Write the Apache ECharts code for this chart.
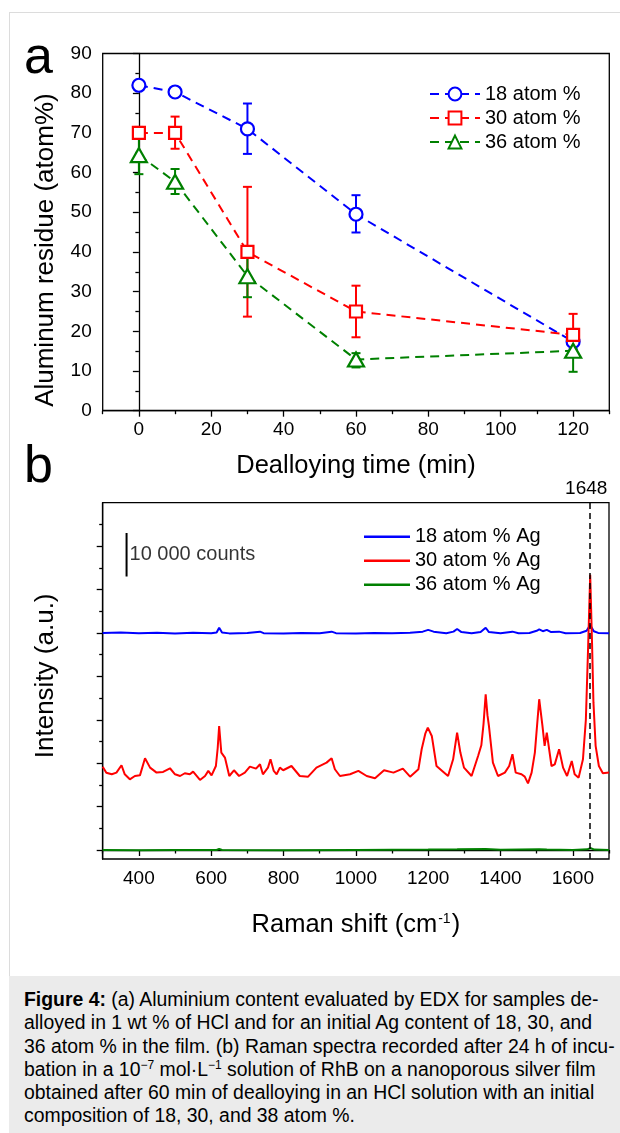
<!DOCTYPE html>
<html>
<head>
<meta charset="utf-8">
<script src="https://cdn.jsdelivr.net/npm/echarts@6/dist/echarts.min.js"></script>
<style>
  html, body { margin:0; padding:0; background:#fff; }
  #wrap { position:relative; width:620px; height:1133px; overflow:hidden; }
  #frame { position:absolute; left:9px; top:12px; width:640px; height:980px; border:1px solid #dcdcdc; box-sizing:border-box; }
  #chart { position:absolute; left:0; top:0; width:620px; height:975px; }
  #caption { position:absolute; left:9px; top:976px; width:611px; height:157px; background:#ebebeb;
    font-family:'Liberation Sans', Arial, sans-serif; font-size:19.4px; line-height:23.3px; color:#000;
    padding:12px 0 0 15px; box-sizing:border-box; white-space:nowrap; }
  #caption sup { font-size:12px; line-height:0; vertical-align:7px; }
</style>
</head>
<body>
<div id="wrap">
  <div id="frame"></div>
  <div id="chart"></div>
  <div id="caption"><b>Figure 4:</b> (a) Aluminium content evaluated by EDX for samples de-<br>alloyed in 1 wt % of HCl and for an initial Ag content of 18, 30, and<br>36 atom % in the film. (b) Raman spectra recorded after 24 h of incu-<br>bation in a 10<sup>−7</sup> mol·L<sup>−1</sup> solution of RhB on a nanoporous silver film<br>obtained after 60 min of dealloying in an HCl solution with an initial<br>composition of 18, 30, and 38 atom %.</div>
</div>
<script>
// ---------- Panel a data ----------
const timeMin = [0, 10, 30, 60, 120];
const al18 = [82, 80.3, 71, 49.5, 17.4];
const al18Low = [null, null, 64.7, 44.9, 15.5];
const al18High = [null, null, 77.4, 54.3, 19.5];
const al30 = [70, 70, 40, 25, 19.1];
const al30Low = [68.5, 66, 23.7, 18.5, 13.8];
const al30High = [71.5, 74.1, 56.4, 31.5, 24.4];
const al36 = [64.4, 57.7, 33.9, 12.9, 15.1];
const al36Low = [59.6, 54.6, 28.6, 10.9, 9.8];
const al36High = [68.8, 60.9, 39.5, 14.5, 19.5];
const namesA = ['18 atom %', '30 atom %', '36 atom %'];
const timeTicks = [0, 20, 40, 60, 80, 100, 120];
const timeMinorTicks = [-10, 10, 30, 50, 70, 90, 110, 130];

// ---------- Panel b data (Raman shift cm-1, counts) ----------
const namesB = ['18 atom % Ag', '30 atom % Ag', '36 atom % Ag'];
const ramanTicks = [400, 600, 800, 1000, 1200, 1400, 1600];
const ramanMinorTicks = [300, 500, 700, 900, 1100, 1300, 1500, 1700];
const countTicks = [0, 10000, 20000, 30000, 40000, 50000, 60000, 70000];
const countMinorTicks = [5000, 15000, 25000, 35000, 45000, 55000, 65000, 75000];
const peakPos = 1648;
const scaleBar = [[366, 73000], [366, 63000]];

const spec30 = [
  [300,19200],[310,17800],[325,17440],[338,17830],[352,19520],[361,17440],[375,16290],[389,17050],
  [403,17200],[417,21130],[431,18980],[449,17830],[467,17990],[486,18830],[500,17440],[514,17050],
  [527,17680],[541,17440],[550,18060],[569,16130],[583,17050],[592,18220],[601,17200],[613,19350],
  [618,23500],[622,28570],[628,22440],[638,21290],[650,17050],[663,18370],[677,17050],[693,17830],
  [707,19210],[724,18750],[735,19750],[743,17440],[757,18980],[764,20900],[773,18220],[781,17440],
  [790,18980],[799,18370],[822,19350],[845,17050],[868,16900],[891,18980],[919,20130],[933,21130],
  [942,18600],[956,17050],[984,17440],[1007,18220],[1030,17050],[1053,16510],[1078,18370],[1104,17830],
  [1130,18750],[1150,16900],[1173,18600],[1182,23210],[1192,26800],[1199,28190],[1210,26270],[1223,19350],
  [1242,17990],[1255,17050],[1269,20900],[1280,27040],[1289,22440],[1299,18980],[1320,17050],[1338,21670],
  [1347,24130],[1353,29000],[1359,35880],[1364,31000],[1368,28570],[1379,20130],[1393,17050],[1412,17830],
  [1424,19350],[1433,22060],[1442,17830],[1458,17440],[1467,16900],[1476,15360],[1486,17830],[1495,22440],
  [1507,34730],[1516,28570],[1522,23980],[1528,27040],[1541,19350],[1550,19730],[1562,23210],[1573,18980],
  [1584,17050],[1597,20520],[1605,17440],[1616,16670],[1628,20900],[1636,30000],[1642,46000],[1648,63400],
  [1653,48000],[1657,34000],[1663,24000],[1672,19350],[1683,17680],[1700,17830]
];
const spec18 = [
  [300,50000],[350,50100],[400,49950],[450,50050],[500,49900],[550,50050],[600,49950],[615,50100],
  [622,51200],[630,50100],[650,49900],[700,50000],[735,50300],[745,49950],[800,49900],[850,50000],
  [900,49950],[933,50300],[945,49950],[1000,49900],[1050,50000],[1100,49950],[1150,50050],[1185,50300],
  [1200,50700],[1215,50300],[1250,49950],[1270,50300],[1280,50900],[1292,50200],[1320,49950],[1345,50200],
  [1359,51200],[1368,50200],[1400,49950],[1433,50300],[1450,49950],[1480,50000],[1500,50500],[1507,50800],
  [1517,50400],[1528,50700],[1540,50200],[1562,50300],[1580,49950],[1620,50000],[1638,50500],[1648,51800],
  [1658,50400],[1670,50000],[1700,49950]
];
const spec36 = [
  [300,0],[400,-50],[500,0],[615,0],[622,250],[630,0],[800,-50],[1000,0],[1200,100],[1280,150],
  [1359,250],[1400,50],[1507,150],[1528,100],[1600,0],[1640,150],[1648,450],[1660,100],[1700,0]
];

// ---------- chart ----------
const FONT = "'Liberation Sans', Arial, sans-serif";
const colors = ['#0000ff', '#ff0000', '#008000'];
const chart = echarts.init(document.getElementById('chart'), null, {renderer: 'canvas'});

function errData(lo, hi) {
  const out = [];
  timeMin.forEach((t, i) => { if (lo[i] != null) out.push([t, lo[i], hi[i]]); });
  return out;
}
function errSeries(name, color, data) {
  return {
    type: 'custom', name: name + ' err', xAxisIndex: 0, yAxisIndex: 0, silent: true,
    data: data,
    renderItem: function (params, api) {
      const x = api.value(0), lo = api.value(1), hi = api.value(2);
      const p1 = api.coord([x, lo]), p2 = api.coord([x, hi]);
      const w = 4.5;
      const st = {stroke: color, lineWidth: 2};
      return {type: 'group', children: [
        {type: 'line', shape: {x1: p1[0], y1: p1[1], x2: p2[0], y2: p2[1]}, style: st},
        {type: 'line', shape: {x1: p1[0]-w, y1: p1[1], x2: p1[0]+w, y2: p1[1]}, style: st},
        {type: 'line', shape: {x1: p2[0]-w, y1: p2[1], x2: p2[0]+w, y2: p2[1]}, style: st}
      ]};
    }
  };
}
function lineA(name, color, vals, symbol, size) {
  return {
    type: 'line', name: name, xAxisIndex: 0, yAxisIndex: 0,
    data: timeMin.map((t, i) => [t, vals[i]]),
    symbol: symbol, symbolSize: size, showAllSymbol: true,
    lineStyle: {color: color, width: 2, type: [9, 6]},
    itemStyle: {color: '#ffffff', borderColor: color, borderWidth: 2.2},
    emphasis: {disabled: true}
  };
}
function lineB(name, color, data) {
  return {
    type: 'line', name: name, xAxisIndex: 1, yAxisIndex: 1, data: data,
    symbol: 'none', lineStyle: {color: color, width: 2}, itemStyle: {color: color},
    emphasis: {disabled: true}
  };
}

const axisLineStyle = {lineStyle: {color: '#000', width: 1.3}};
const labelStyle = {color: '#000', fontSize: 19, fontFamily: FONT, formatter: v => String(v)};

const redB = lineB(namesB[1], colors[1], spec30);
redB.markLine = {
  silent: true, symbol: 'none', animation: false,
  lineStyle: {color: '#000', width: 1.5, type: [6, 4]},
  label: {show: true, position: 'end', formatter: String(peakPos), color: '#000', fontSize: 19, fontFamily: FONT, distance: 4, padding: [0, 8, 0, 0]},
  data: [{xAxis: peakPos}]
};

const option = {
  animation: false,
  textStyle: {fontFamily: FONT},
  grid: [
    {left: 102.7, top: 53.5, width: 506.6, height: 357.2, show: true, borderColor: '#000', borderWidth: 1.3, backgroundColor: 'transparent'},
    {left: 102.7, top: 502.7, width: 506.3, height: 356.3, show: true, borderColor: '#000', borderWidth: 1.3, backgroundColor: 'transparent'}
  ],
  xAxis: [
    {type: 'value', gridIndex: 0, min: -10, max: 130, position: 'bottom',
     axisLine: axisLineStyle, splitLine: {show: false},
     axisTick: {show: true, length: 6, customValues: timeTicks, lineStyle: {color: '#000', width: 1.3}},
     axisLabel: Object.assign({customValues: timeTicks, margin: 10}, labelStyle),
     name: 'Dealloying time (min)', nameLocation: 'middle', nameGap: 42,
     nameTextStyle: {color: '#000', fontSize: 25.5, fontFamily: FONT}},
    {type: 'value', gridIndex: 1, min: 300, max: 1700, position: 'bottom',
     axisLine: axisLineStyle, splitLine: {show: false},
     axisTick: {show: true, length: 6, customValues: ramanTicks, lineStyle: {color: '#000', width: 1.3}},
     axisLabel: Object.assign({customValues: ramanTicks, margin: 10}, labelStyle),
     name: '{a|Raman shift (cm}{s|-1}{a|)}', nameLocation: 'middle', nameGap: 53,
     nameTextStyle: {rich: {
       a: {color: '#000', fontSize: 25.5, fontFamily: FONT},
       s: {color: '#000', fontSize: 14, fontFamily: FONT, verticalAlign: 'top', padding: [0, 1, 0, 1]}
     }}},
    {type: 'value', gridIndex: 0, min: -10, max: 130, position: 'bottom',
     axisLine: {show: false}, splitLine: {show: false}, axisLabel: {show: false},
     axisTick: {show: true, length: 3.5, customValues: timeMinorTicks, lineStyle: {color: '#000', width: 1.3}}},
    {type: 'value', gridIndex: 1, min: 300, max: 1700, position: 'bottom',
     axisLine: {show: false}, splitLine: {show: false}, axisLabel: {show: false},
     axisTick: {show: true, length: 3.5, customValues: ramanMinorTicks, lineStyle: {color: '#000', width: 1.3}}}
  ],
  yAxis: [
    {type: 'value', gridIndex: 0, min: 0, max: 90, interval: 10, position: 'left',
     axisLine: axisLineStyle, splitLine: {show: false},
     axisTick: {show: true, length: 6, lineStyle: {color: '#000', width: 1.3}},
     minorTick: {show: true, splitNumber: 2, length: 3.5, lineStyle: {color: '#000', width: 1.3}},
     minorSplitLine: {show: false},
     axisLabel: Object.assign({margin: 11}, labelStyle),
     name: 'Aluminum residue (atom%)', nameLocation: 'middle', nameGap: 44,
     nameTextStyle: {color: '#000', fontSize: 26, fontFamily: FONT, padding: [0, 36, 0, 0]}},
    {type: 'value', gridIndex: 1, min: -2070, max: 80000, position: 'left',
     axisLine: axisLineStyle, splitLine: {show: false},
     axisTick: {show: true, length: 6, customValues: countTicks, lineStyle: {color: '#000', width: 1.3}},
     axisLabel: {show: false},
     name: 'Intensity (a.u.)', nameLocation: 'middle', nameGap: 44,
     nameTextStyle: {color: '#000', fontSize: 26, fontFamily: FONT, padding: [0, 0, 0, 10]}},
    {type: 'value', gridIndex: 1, min: -2070, max: 80000, position: 'left',
     axisLine: {show: false}, splitLine: {show: false}, axisLabel: {show: false},
     axisTick: {show: true, length: 3.5, customValues: countMinorTicks, lineStyle: {color: '#000', width: 1.3}}}
  ],
  legend: [
    {data: namesA, left: 424, top: 79, orient: 'vertical', itemWidth: 50, itemHeight: 16, itemGap: 4,
     textStyle: {color: '#000', fontSize: 20, fontFamily: FONT, lineHeight: 20}, selectedMode: false},
    {data: namesB, left: 359, top: 521.7, orient: 'vertical', itemWidth: 46, itemHeight: 2.5, itemGap: 4,
     icon: 'rect',
     textStyle: {color: '#000', fontSize: 20, fontFamily: FONT, lineHeight: 20}, selectedMode: false}
  ],
  graphic: [
    {type: 'text', left: 24, top: 33, style: {text: 'a', fontSize: 52, fontFamily: FONT, fill: '#000'}},
    {type: 'text', left: 24, top: 442, style: {text: 'b', fontSize: 52, fontFamily: FONT, fill: '#000'}}
  ],
  series: [
    errSeries(namesA[0], colors[0], errData(al18Low, al18High)),
    lineA(namesA[0], colors[0], al18, 'circle', 13),
    errSeries(namesA[1], colors[1], errData(al30Low, al30High)),
    lineA(namesA[1], colors[1], al30, 'rect', 12),
    errSeries(namesA[2], colors[2], errData(al36Low, al36High)),
    lineA(namesA[2], colors[2], al36, 'triangle', [16, 14]),
    lineB(namesB[0], colors[0], spec18),
    redB,
    lineB(namesB[2], colors[2], spec36),
    {type: 'line', name: 'scale bar', xAxisIndex: 1, yAxisIndex: 1, data: scaleBar, symbol: 'none',
     lineStyle: {color: '#000', width: 2}, silent: true},
    {type: 'scatter', name: 'scale label', xAxisIndex: 1, yAxisIndex: 1, symbolSize: 0, silent: true,
     data: [[scaleBar[0][0], (scaleBar[0][1] + scaleBar[1][1]) / 2]],
     label: {show: true, position: 'right', distance: 3, formatter: '10 000 counts', color: '#000', fontSize: 20, fontFamily: FONT}}
  ]
};
chart.setOption(option);
</script>
</body>
</html>
